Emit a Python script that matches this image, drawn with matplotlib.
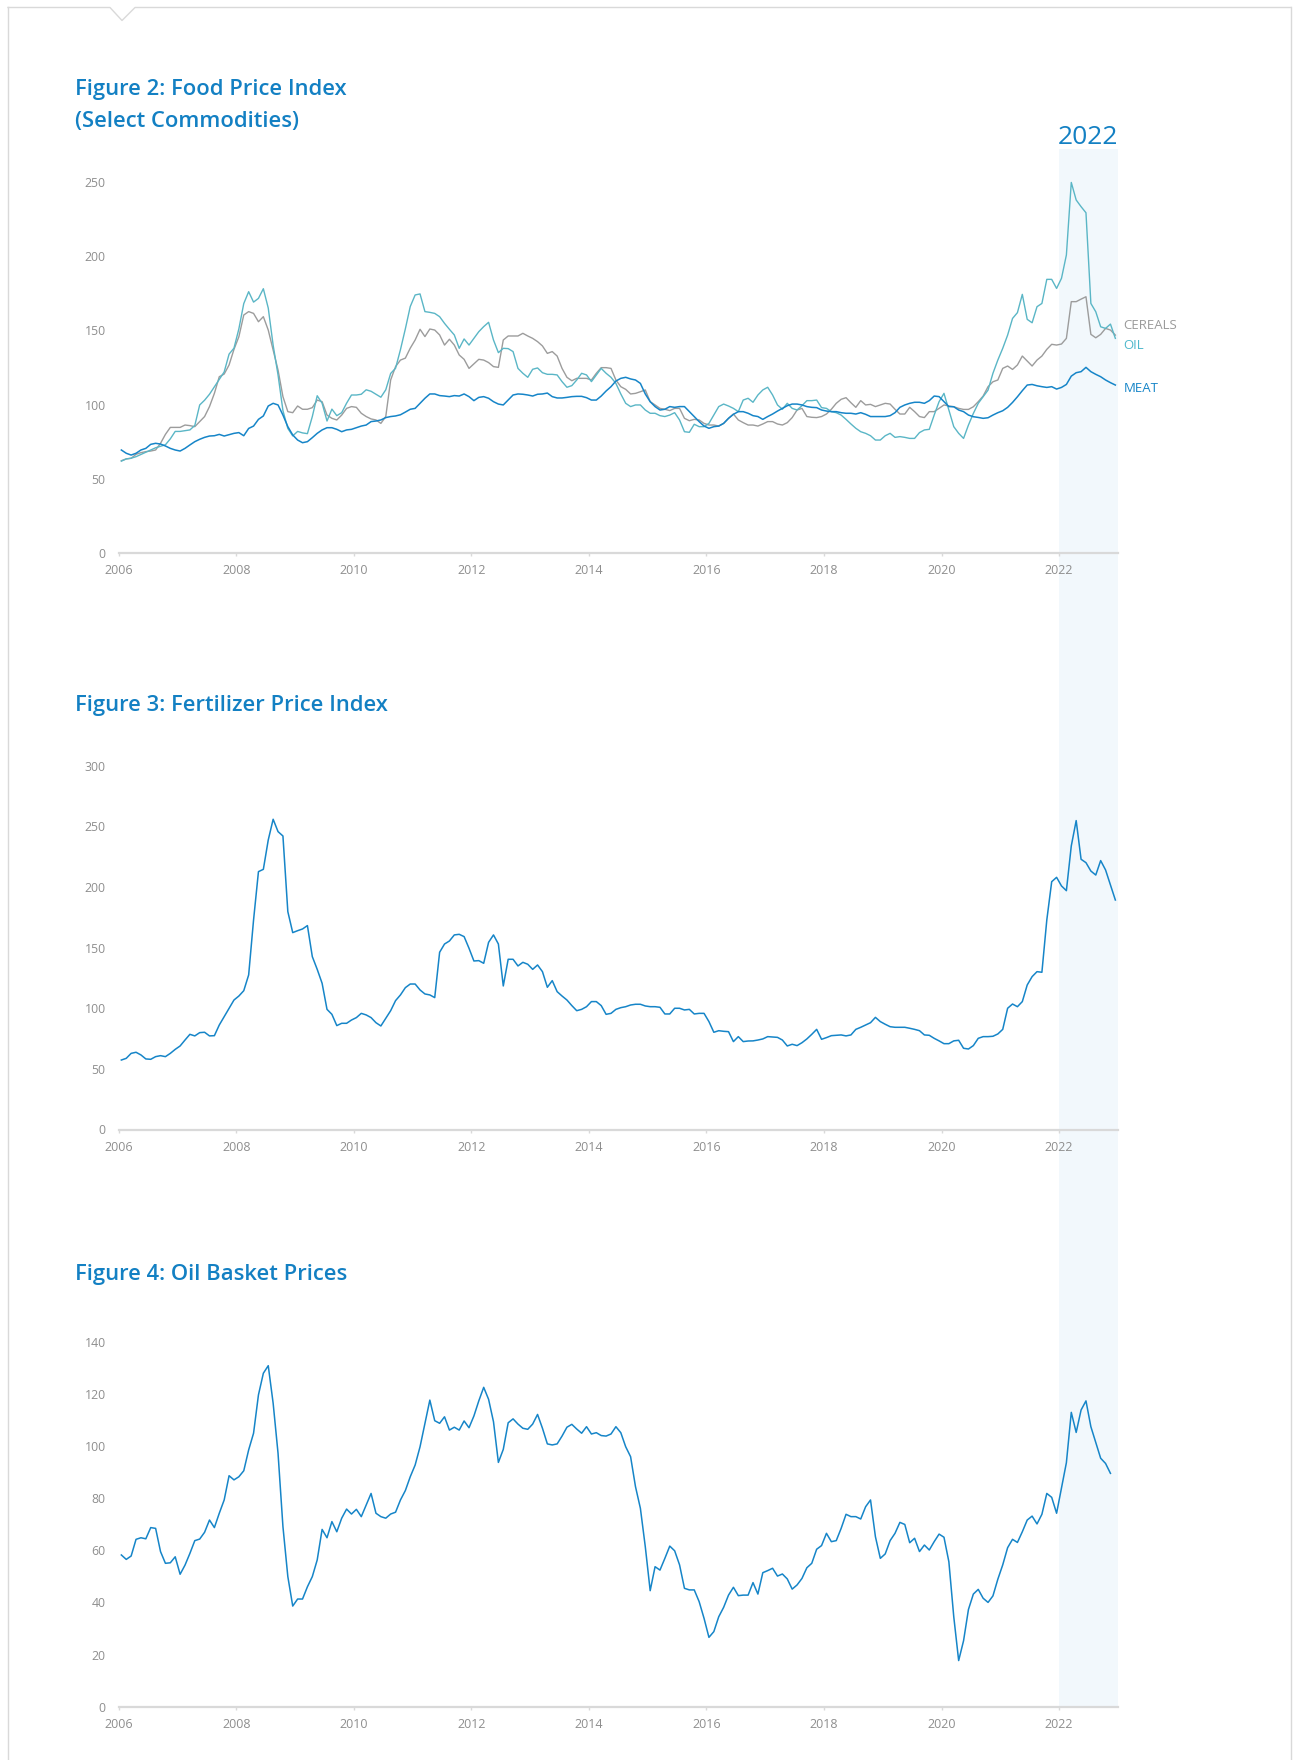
import numpy as np
import matplotlib
matplotlib.use('Agg')
import matplotlib.pyplot as plt
from matplotlib.patches import Rectangle
from matplotlib.lines import Line2D

plt.rcParams['font.family'] = ['Open Sans', 'DejaVu Sans']

# ---- data: monthly, Jan 2006 onwards ----
cereals = [
    62.3, 63.5, 63.9, 66.6, 67.7, 68.4, 68.8, 69.5, 74.0, 80.0, 84.7, 84.7,          # 2006
    84.7, 86.3, 85.9, 85.2, 88.6, 92.0, 98.7, 107.6, 118.8, 120.6, 126.7, 137.2,     # 2007
    145.7, 160.3, 162.6, 161.4, 155.8, 159.2, 150.2, 136.8, 123.3, 105.4, 95.3, 94.6, # 2008
    99.1, 96.9, 96.9, 98.0, 103.1, 102.0, 93.0, 90.8, 89.7, 93.0, 97.5, 98.7,        # 2009
    98.2, 94.2, 92.0, 90.4, 89.7, 87.4, 92.0, 116.6, 125.6, 130.0, 131.3, 138.0,     # 2010
    143.5, 150.7, 145.8, 150.9, 150.2, 146.9, 140.1, 144.0, 140.1, 133.4, 130.5, 124.4, # 2011
    127.4, 130.5, 130.0, 128.3, 125.6, 125.1, 143.5, 146.2, 146.2, 146.2, 148.0, 146.2, # 2012
    144.6, 142.4, 139.5, 134.5, 135.7, 132.7, 124.4, 118.4, 116.1, 117.7, 117.7, 117.7, # 2013
    116.6, 121.1, 124.9, 124.9, 124.4, 116.6, 112.1, 110.3, 107.2, 107.6, 108.7, 109.9, # 2014
    102.0, 99.8, 97.5, 96.9, 96.0, 97.5, 97.5, 90.8, 89.2, 90.1, 89.7, 87.4,         # 2015
    86.3, 86.3, 85.6, 87.4, 90.8, 93.7, 89.7, 87.9, 86.3, 86.3, 85.6, 87.0,          # 2016
    88.6, 88.6, 87.0, 86.3, 87.9, 91.3, 96.4, 97.5, 92.0, 91.5, 91.3, 92.0,          # 2017
    93.7, 96.9, 100.9, 103.6, 104.7, 101.3, 98.2, 102.7, 99.8, 100.2, 98.7, 99.8,    # 2018
    100.9, 100.4, 96.9, 93.7, 93.7, 98.2, 95.3, 92.0, 91.3, 95.3, 95.3, 97.5,        # 2019
    99.8, 99.1, 98.6, 97.5, 96.8, 96.8, 98.6, 102.0, 105.8, 112.1, 115.4, 116.6,     # 2020
    124.4, 126.0, 123.7, 126.7, 132.7, 129.3, 126.0, 130.0, 132.7, 137.2, 140.6, 140.1, # 2021
    140.8, 144.6, 169.3, 169.3, 171.0, 172.6, 147.3, 145.0, 147.3, 151.3, 150.2, 146.8, # 2022
]

oils = [
    62.0, 63.5, 64.0, 65.0, 66.5, 68.0, 69.5, 71.0, 72.0, 73.0, 77.0, 82.0,
    82.0, 82.5, 83.0, 86.0, 99.8, 103.0, 107.0, 112.0, 117.0, 122.0, 134.0, 138.0,
    151.0, 168.0, 176.0, 169.0, 171.5, 178.0, 165.0, 140.0, 120.0, 96.0, 84.0, 79.0,
    82.0, 81.0, 80.5, 92.0, 106.0, 101.0, 89.0, 97.0, 92.6, 94.6, 101.0, 106.5,
    106.5, 107.0, 110.0, 109.0, 107.0, 105.0, 110.0, 121.0, 124.5, 137.0, 151.0, 166.0,
    173.8, 174.5, 162.6, 162.1, 161.4, 159.2, 154.7, 150.7, 146.9, 137.9, 144.2, 140.1,
    144.6, 149.1, 152.5, 155.4, 143.5, 135.0, 137.9, 137.7, 135.7, 124.4, 121.1, 118.4,
    123.8, 124.7, 121.5, 120.4, 120.4, 120.0, 115.5, 111.7, 112.8, 116.6, 121.1, 120.0,
    115.5, 120.0, 124.4, 121.1, 118.4, 114.3, 107.2, 100.9, 98.7, 99.8, 99.8, 96.4,
    94.2, 94.2, 92.6, 92.0, 93.0, 94.6, 89.7, 81.8, 81.4, 86.8, 85.2, 85.2,
    87.4, 93.0, 98.7, 100.4, 99.1, 97.5, 95.3, 103.1, 104.3, 101.6, 106.5, 109.9,
    111.7, 106.5, 99.8, 96.9, 100.9, 97.5, 96.4, 99.3, 102.7, 102.7, 103.1, 98.0,
    97.5, 95.3, 94.6, 93.0, 90.1, 87.0, 84.1, 81.8, 80.7, 79.1, 76.2, 76.2,
    79.1, 80.7, 78.0, 78.5, 78.0, 77.3, 77.3, 81.2, 83.0, 83.4, 93.0, 102.0,
    107.6, 96.4, 85.2, 80.7, 77.3, 86.3, 94.1, 100.9, 105.4, 109.8, 121.1, 130.0,
    137.9, 146.8, 158.0, 161.9, 174.2, 157.4, 155.1, 165.9, 168.1, 184.3, 184.3, 178.2,
    185.0, 200.7, 249.5, 237.7, 233.2, 229.1, 168.1, 162.5, 152.4, 151.3, 154.2, 144.6,
]

meat = [
    69.5, 67.3, 66.1, 67.3, 69.5, 70.6, 73.3, 74.0, 73.5, 72.2, 70.6, 69.5,
    68.8, 70.6, 72.9, 75.1, 76.7, 78.0, 78.9, 79.1, 80.0, 78.9, 79.8, 80.7,
    81.2, 79.1, 84.0, 85.6, 90.1, 92.4, 99.1, 100.9, 99.8, 93.0, 85.2, 79.6,
    76.2, 74.4, 75.1, 77.8, 80.7, 83.0, 84.5, 84.5, 83.4, 81.8, 83.0, 83.4,
    84.5, 85.6, 86.3, 88.6, 89.0, 89.7, 91.3, 92.0, 92.4, 93.2, 95.0, 96.9,
    97.5, 100.9, 104.3, 107.2, 107.2, 106.1, 105.8, 105.4, 106.1, 105.8, 107.2, 105.4,
    102.7, 104.9, 105.4, 104.3, 102.0, 100.4, 99.8, 103.1, 106.5, 107.2, 107.0, 106.5,
    105.8, 107.0, 107.2, 107.8, 105.4, 104.5, 104.5, 104.9, 105.4, 105.6, 105.6, 104.7,
    103.1, 103.1, 105.8, 109.2, 112.1, 115.9, 117.7, 118.4, 117.3, 116.6, 114.3, 107.2,
    102.0, 98.7, 96.4, 96.9, 98.7, 98.2, 98.7, 98.7, 95.3, 92.0, 88.6, 85.6,
    84.1, 85.2, 85.6, 87.4, 90.8, 93.5, 95.3, 95.3, 94.2, 92.6, 92.0, 90.1,
    92.0, 93.7, 95.7, 97.5, 99.3, 100.4, 100.4, 99.8, 98.7, 98.2, 98.0, 96.4,
    95.7, 95.3, 95.3, 94.6, 94.2, 94.2, 93.7, 94.6, 93.5, 92.0, 92.0, 92.0,
    92.0, 92.6, 94.6, 98.2, 99.8, 100.9, 101.6, 101.6, 100.9, 102.7, 105.8, 105.4,
    102.0, 98.7, 98.6, 96.4, 95.3, 93.0, 91.9, 91.4, 90.8, 91.2, 93.0, 94.6,
    95.9, 98.2, 101.5, 105.3, 109.4, 113.2, 113.6, 112.7, 112.1, 111.6, 112.1, 110.5,
    111.6, 113.6, 119.2, 121.5, 122.2, 125.1, 122.2, 120.4, 118.8, 116.6, 114.8, 113.2,
]

fertilizer = [
    57.3, 58.7, 62.8, 63.7, 61.5, 58.2, 57.9, 60.1, 60.9, 60.1, 62.8, 66.1,
    68.9, 73.8, 78.5, 77.2, 79.9, 80.2, 77.2, 77.4, 86.2, 93.1, 99.9, 106.8,
    110.1, 114.5, 127.5, 172.8, 212.7, 214.6, 238.8, 255.9, 245.7, 242.1, 179.7, 162.4,
    164.0, 165.4, 168.2, 142.6, 132.1, 120.6, 99.1, 95.0, 85.7, 87.6, 87.6, 90.3,
    92.3, 95.8, 94.5, 92.3, 88.1, 85.4, 91.7, 98.0, 106.3, 111.0, 117.0, 120.0,
    120.0, 115.1, 111.8, 111.0, 108.8, 146.2, 153.0, 155.5, 160.5, 161.0, 159.1, 149.5,
    139.0, 139.3, 137.1, 154.4, 160.5, 153.0, 118.4, 140.4, 140.4, 134.9, 137.9, 136.3,
    132.1, 135.7, 130.2, 117.3, 122.8, 113.7, 110.1, 106.8, 102.2, 98.0, 99.1, 101.3,
    105.5, 105.5, 102.2, 95.0, 95.8, 99.1, 100.5, 101.3, 102.7, 103.3, 103.3, 101.9,
    101.3, 101.3, 100.8, 95.3, 95.3, 100.0, 100.0, 98.6, 99.1, 95.3, 95.8, 95.8,
    89.0, 80.2, 81.5, 81.0, 80.7, 72.5, 76.6, 72.5, 73.0, 73.1, 73.8, 74.7,
    76.6, 76.3, 76.0, 73.8, 68.9, 70.3, 69.2, 71.6, 74.7, 78.5, 82.6, 74.4,
    75.8, 77.4, 77.7, 78.0, 77.2, 78.0, 82.6, 84.3, 86.2, 88.1, 92.5, 89.0,
    86.8, 84.8, 84.3, 84.3, 84.3, 83.5, 82.6, 81.5, 78.0, 77.7, 75.2, 73.1,
    70.8, 70.8, 73.1, 73.6, 67.0, 66.4, 69.2, 75.2, 76.6, 76.6, 76.9, 78.8,
    82.6, 100.0, 103.5, 101.3, 105.5, 119.2, 126.1, 130.2, 129.7, 172.8, 204.4, 208.0,
    200.9, 197.0, 233.9, 254.8, 222.9, 220.1, 213.2, 209.9, 221.8, 214.1, 201.7, 189.3,
]

oil_basket = [
    58.2, 56.5, 57.8, 64.2, 64.8, 64.4, 68.7, 68.4, 59.5, 55.0, 55.2, 57.5,
    50.8, 54.3, 58.8, 63.7, 64.3, 66.9, 71.6, 68.7, 74.2, 79.3, 88.6, 87.0,
    88.2, 90.5, 98.5, 104.9, 119.6, 127.9, 130.8, 116.4, 97.2, 69.1, 49.9, 38.6,
    41.3, 41.3, 46.0, 49.9, 56.3, 68.0, 64.8, 71.0, 67.1, 72.3, 75.8, 73.9,
    75.7, 72.9, 77.4, 81.8, 74.2, 72.9, 72.3, 73.9, 74.6, 79.3, 82.9, 88.2,
    92.7, 99.7, 108.7, 117.6, 109.7, 108.7, 111.2, 106.1, 107.2, 106.1, 109.6, 107.0,
    111.5, 117.3, 122.5, 117.9, 109.3, 93.7, 98.7, 108.9, 110.4, 108.4, 106.8, 106.4,
    108.4, 112.1, 106.8, 100.8, 100.4, 100.8, 103.8, 107.2, 108.3, 106.5, 104.9, 107.4,
    104.6, 105.1, 104.0, 103.8, 104.6, 107.4, 105.1, 99.7, 95.9, 84.4, 76.1, 61.4,
    44.5, 53.7, 52.4, 56.9, 61.6, 59.8, 54.4, 45.4, 44.8, 44.8, 40.3, 33.9,
    26.6, 28.8, 34.5, 38.1, 42.8, 45.8, 42.6, 42.8, 42.8, 47.6, 43.2, 51.4,
    52.2, 53.1, 50.1, 50.9, 49.0, 45.1, 46.7, 49.2, 53.3, 55.0, 60.4, 61.8,
    66.5, 63.3, 63.7, 68.4, 73.8, 72.9, 72.9, 72.0, 76.7, 79.3, 65.2, 56.9,
    58.6, 63.7, 66.5, 70.7, 69.9, 62.9, 64.6, 59.5, 62.0, 60.1, 63.3, 66.2,
    65.0, 55.6, 34.5, 17.7, 25.3, 37.3, 43.2, 45.0, 41.6, 40.0, 42.5, 48.9,
    54.4, 61.0, 64.2, 63.0, 67.1, 71.6, 73.1, 70.1, 73.8, 81.8, 80.3, 74.2,
    83.8, 93.6, 112.9, 105.2, 113.8, 117.3, 107.4, 101.3, 95.3, 93.3, 89.5,   # 2022 (to Nov)
]

year_ticks = list(range(2006, 2023, 2))
highlight_year = 2022

def month_x(series):
    return 2006 + (np.arange(len(series)) + 0.5) / 12.0

BLUE = '#1685c8'
TEAL = '#5ab6c6'
GREY = '#9c9c9c'
TITLE = '#1380c3'
TICKC = '#8e8e8e'
AXISC = '#d9d9d9'

W, H = 1293, 1760
fig = plt.figure(figsize=(W / 100, H / 100), dpi=100)
fig.patch.set_facecolor('white')

def px_rect(x0, y_bottom, x1, y_top):
    # figure-pixel box (from top-left) -> figure fraction [l, b, w, h]
    return [x0 / W, 1 - y_bottom / H, (x1 - x0) / W, (y_bottom - y_top) / H]

ax1 = fig.add_axes(px_rect(118.9, 553.3, 1117.8, 181.7))
ax2 = fig.add_axes(px_rect(118.9, 1129.5, 1117.8, 765.8))
ax3 = fig.add_axes(px_rect(118.9, 1706.7, 1117.8, 1341.7))

def style(ax, ymax, ystep):
    ax.set_facecolor('none')
    ax.set_xlim(2006, 2023)
    ax.set_ylim(0, ymax)
    ax.set_yticks(np.arange(0, ymax + 1, ystep))
    ax.set_xticks(year_ticks)
    for s in ['top', 'right', 'left']:
        ax.spines[s].set_visible(False)
    ax.spines['bottom'].set_color(AXISC)
    ax.spines['bottom'].set_linewidth(1.6)
    ax.tick_params(axis='x', length=2.5, width=1, color=AXISC, pad=5.5,
                   labelsize=9, labelcolor=TICKC)
    ax.tick_params(axis='y', length=0, pad=9.5, labelsize=8.8, labelcolor=TICKC)

style(ax1, 250, 50)
style(ax2, 300, 50)
style(ax3, 140, 20)

# Figure 2 lines
ax1.plot(month_x(cereals), cereals, color=GREY, lw=1.0, clip_on=False)
ax1.plot(month_x(oils), oils, color=TEAL, lw=1.0, clip_on=False)
ax1.plot(month_x(meat), meat, color=BLUE, lw=1.1, clip_on=False)

label_y = {'CEREALS': 153.5, 'OIL': 139.8, 'MEAT': 110.6}
label_c = {'CEREALS': '#9a9a9a', 'OIL': '#4fb8cc', 'MEAT': BLUE}
for name in ['CEREALS', 'OIL', 'MEAT']:
    ax1.annotate(name, xy=(2023, label_y[name]), xytext=(4, 0),
                 textcoords='offset points', va='center', ha='left',
                 fontsize=9.5, color=label_c[name], annotation_clip=False)

ax2.plot(month_x(fertilizer), fertilizer, color=BLUE, lw=1.1, clip_on=False)
ax3.plot(month_x(oil_basket), oil_basket, color=BLUE, lw=1.1, clip_on=False)

# 2022 highlight band running through all three panels
inv = fig.transFigure.inverted()
bx0 = inv.transform(ax1.transData.transform((highlight_year, 0)))[0]
bx1 = inv.transform(ax1.transData.transform((highlight_year + 1, 0)))[0]
btop = inv.transform(ax1.transAxes.transform((0, 1.087)))[1]
bbot = inv.transform(ax3.transAxes.transform((0, 0)))[1]
fig.add_artist(Rectangle((bx0, bbot), bx1 - bx0, btop - bbot, transform=fig.transFigure,
                         facecolor='#f2f8fc', edgecolor='none', zorder=-1))
ax1.text(highlight_year + 0.5, 1.118, str(highlight_year), transform=ax1.get_xaxis_transform(),
         ha='center', va='center', fontsize=19, color=TITLE)

# titles
tkw = dict(fontsize=15.8, fontweight='semibold', color=TITLE, ha='left', va='center')
fig.text(75 / W, 1 - 89.5 / H, 'Figure 2: Food Price Index', **tkw)
fig.text(75 / W, 1 - 121 / H, '(Select Commodities)', **tkw)
fig.text(75 / W, 1 - 705 / H, 'Figure 3: Fertilizer Price Index', **tkw)
fig.text(75 / W, 1 - 1274 / H, 'Figure 4: Oil Basket Prices', **tkw)

# card border with little pointer notch at the top
def fx(x):
    return x / W

def fy(y):
    return 1 - y / H

fig.add_artist(Line2D([fx(8), fx(110), fx(122), fx(135), fx(1291)],
                      [fy(7.5), fy(7.5), fy(20.5), fy(7.5), fy(7.5)],
                      transform=fig.transFigure, color='#d9d9d9', lw=1))
fig.add_artist(Line2D([fx(8), fx(8)], [fy(7.5), fy(H)], transform=fig.transFigure,
                      color='#d9d9d9', lw=1))
fig.add_artist(Line2D([fx(1291), fx(1291)], [fy(7.5), fy(H)], transform=fig.transFigure,
                      color='#d9d9d9', lw=1))

fig.savefig('out.png', dpi=100)
